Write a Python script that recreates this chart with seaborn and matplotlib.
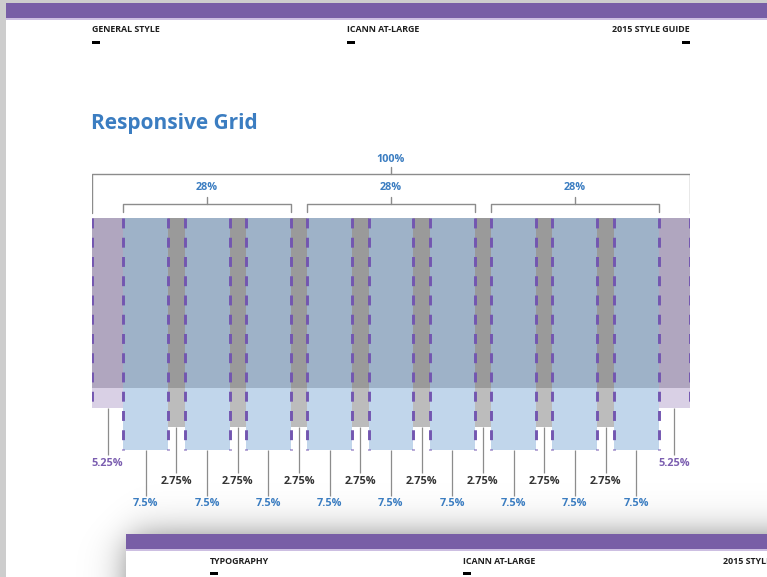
import numpy as np
import pandas as pd
import seaborn as sns
import matplotlib.pyplot as plt
from matplotlib.patches import Rectangle

# grid segments, left to right, width in % of the page
kinds = ["margin", "column", "gutter", "column", "gutter", "column", "gutter",
         "column", "gutter", "column", "gutter", "column", "gutter",
         "column", "gutter", "column", "gutter", "column", "margin"]
widths = [5.25, 7.5, 2.75, 7.5, 2.75, 7.5, 2.75,
          7.5, 2.75, 7.5, 2.75, 7.5, 2.75,
          7.5, 2.75, 7.5, 2.75, 7.5, 5.25]
# first and last segment index of each 3-column group
groups = [(1, 5), (7, 11), (13, 17)]

header_top = ["GENERAL STYLE", "ICANN AT-LARGE", "2015 STYLE GUIDE"]
header_bottom = ["TYPOGRAPHY", "ICANN AT-LARGE", "2015 STYLE GUIDE"]
title = "Responsive Grid"

df = pd.DataFrame({"kind": kinds, "width": widths})
df["left"] = df["width"].cumsum() - df["width"]
df["center"] = df["left"] + df["width"] / 2
df["label"] = df["width"].map(lambda w: f"{w:g}%")

upper_col = {"margin": "#b0a6bf", "column": "#9eb2c8", "gutter": "#9a9a9a"}
lower_col = {"margin": "#d9d0e5", "column": "#c1d6eb", "gutter": "#bcbcbc"}
bar_end = {"margin": 408, "column": 450, "gutter": 427}
label_y = {"margin": 463, "column": 504, "gutter": 481}
text_col = {"margin": "#7b5eb0", "column": "#3b7dc1", "gutter": "#333333"}

PURPLE = "#785ea6"
BLUE = "#3b7dc1"
LINE = "#8c8c8c"

sns.set_theme(style="white")
plt.rcParams["font.family"] = ["Open Sans", "DejaVu Sans"]

fig = plt.figure(figsize=(7.67, 5.77), dpi=100, facecolor="#cdcdcd")

# page background / decoration in pixel coordinates
bg = fig.add_axes([0, 0, 1, 1], zorder=0)
bg.set_xlim(0, 767)
bg.set_ylim(577, 0)
bg.axis("off")
bg.add_patch(Rectangle((6, 3), 800, 600, color="white", lw=0))
bg.add_patch(Rectangle((6, 3), 800, 15, color=PURPLE, lw=0))
bg.add_patch(Rectangle((6, 18), 800, 2, color="#cdbfe2", lw=0))

# soft shadow of the next page
yy, xx = np.mgrid[0:577, 0:767]
sig = lambda t: 1 / (1 + np.exp(-t))
alpha = 0.6 * sig((xx - 130) / 11) * sig((yy - 538) / 11)
shadow = np.zeros((577, 767, 4))
shadow[..., 3] = alpha
bg.imshow(shadow, extent=(0, 767, 577, 0), aspect="auto", zorder=1)

bg.add_patch(Rectangle((126, 534), 800, 100, color="white", lw=0, zorder=2))
bg.add_patch(Rectangle((126, 534), 800, 15, color=PURPLE, lw=0, zorder=3))
bg.add_patch(Rectangle((126, 549), 800, 2, color="#cdbfe2", lw=0, zorder=3))

hkw = dict(fontsize=6.4, fontweight="bold", color="#1e1e1e", va="center")
bg.text(92, 30, header_top[0], ha="left", **hkw)
bg.text(347, 30, header_top[1], ha="left", **hkw)
bg.text(690, 30, header_top[2], ha="right", **hkw)
for x0 in [92, 347, 682]:
    bg.add_patch(Rectangle((x0, 41), 8, 3, color="black", lw=0))
bg.text(210, 561, header_bottom[0], ha="left", zorder=4, **hkw)
bg.text(463, 561, header_bottom[1], ha="left", zorder=4, **hkw)
bg.text(723, 561, header_bottom[2], ha="left", zorder=4, **hkw)
for x0 in [210, 463]:
    bg.add_patch(Rectangle((x0, 572), 8, 3, color="black", lw=0, zorder=4))

bg.text(91, 124, title, fontsize=15, fontweight="bold", color=BLUE,
        ha="left", va="center")

# grid: x in percent of page width, y in pixels
ax = fig.add_axes([92 / 767, 0, 598 / 767, 1], zorder=1)
ax.set_xlim(0, 100)
ax.set_ylim(577, 0)
ax.patch.set_alpha(0)
ax.axis("off")

top, split = 218, 388
ax.bar(df["left"], split - top, bottom=top, width=df["width"], align="edge",
       color=[upper_col[k] for k in df["kind"]], linewidth=0)
ax.bar(df["left"], [bar_end[k] - split for k in df["kind"]], bottom=split,
       width=df["width"], align="edge",
       color=[lower_col[k] for k in df["kind"]], linewidth=0)

dash = (0, (3.4, 3.2))
cols = df[df["kind"] == "column"]
edges = np.concatenate([cols["left"], cols["left"] + cols["width"]])
ax.vlines(edges, top, bar_end["column"], colors="#7356b0", lw=2.1,
          linestyles=[dash])
ax.vlines([0, 100], top, bar_end["margin"], colors="#7356b0", lw=2.1,
          linestyles=[dash])

# leader lines and labels
for _, r in df.iterrows():
    k = r["kind"]
    ax.vlines(r["center"], bar_end[k], label_y[k] - 8, colors=LINE, lw=0.9)
    ax.text(r["center"], label_y[k], r["label"], ha="center", va="center",
            fontsize=7.8, fontweight="bold", color=text_col[k])

# brackets
def bracket(x0, x1, y, y_end, label, label_yy):
    ax.plot([x0, x0, x1, x1], [y_end, y, y, y_end], color=LINE, lw=1.0)
    xm = (x0 + x1) / 2
    ax.plot([xm, xm], [y, y - 7], color=LINE, lw=1.0)
    ax.text(xm, label_yy, label, ha="center", va="center", fontsize=7.8,
            fontweight="bold", color=BLUE)

total = df["width"].sum()
bracket(0, total, 174, 213, f"{total:g}%", 160)
for a, b in groups:
    x0 = df.loc[a, "left"]
    x1 = df.loc[b, "left"] + df.loc[b, "width"]
    bracket(x0, x1, 204, 212, f"{df.loc[a:b, 'width'].sum():g}%", 188)

fig.savefig("out.png", dpi=100, facecolor=fig.get_facecolor())
